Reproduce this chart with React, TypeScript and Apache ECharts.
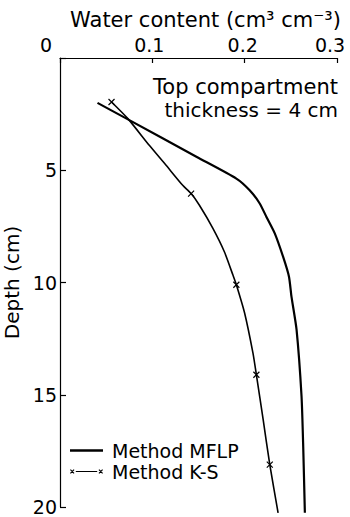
import React, { useEffect, useRef } from "react";
import * as echarts from "echarts";

const FONT = "DejaVu Sans";

// Water content axis ticks (top axis) and depth ticks (left axis)
const waterTicks = [0, 0.1, 0.2, 0.3];
const depthTicks = [0, 5, 10, 15, 20];

// Method MFLP curve (depth in cm, water content in cm3/cm3)
const mflpDepth = [2.0, 2.7, 4.41, 5.37, 5.89, 6.48, 7.08, 7.81, 8.85, 9.74, 10.63, 12.1, 15.08, 17.3, 20.26];
const mflpWater = [0.0406, 0.0721, 0.1482, 0.191, 0.2054, 0.2163, 0.2236, 0.2326, 0.2416, 0.248, 0.2507, 0.2562, 0.2616, 0.2634, 0.2652];

// Method K-S curve (markers at compartment centres; unmarked points trace the line)
const ksDepth = [1.96, 2.7, 3.89, 4.78, 5.67, 6.04, 6.56, 7.59, 8.63, 9.67, 10.1, 11.37, 13.15, 14.11, 16.1, 18.11, 20.26];
const ksWater = [0.0558, 0.0735, 0.0967, 0.1149, 0.1329, 0.142, 0.151, 0.1656, 0.178, 0.1873, 0.191, 0.2, 0.209, 0.2127, 0.22, 0.2272, 0.2362];
const ksMarked = [true, false, false, false, false, true, false, false, false, false, true, false, false, true, false, true, false];

const seriesNames = ["Method MFLP", "Method K-S"];
const annotationLines = ["Top compartment", "thickness = 4 cm"];

const crossSymbol = "path://M0 0L10 10M10 0L0 10";
const mflpLegendIcon = "path://M0 0H33V2.4H0Z";
const ksLegendIcon =
  "path://M0.3 2.7L1.1 1.9L4.7 5.5L3.9 6.3Z M0.3 5.5L3.9 1.9L4.7 2.7L1.1 6.3Z M6 3.6H27V4.6H6Z M28.3 2.7L29.1 1.9L32.7 5.5L31.9 6.3Z M28.3 5.5L31.9 1.9L32.7 2.7L29.1 6.3Z";

const labelBase = { fontSize: 19, fontFamily: FONT, color: "#000" };

export default function App() {
  const ref = useRef<HTMLDivElement>(null);

  useEffect(() => {
    if (!ref.current) return;
    const chart = echarts.init(ref.current, null, { renderer: "svg" });

    const mflpData = mflpDepth.map((d, i) => [mflpWater[i], d]);
    const ksData = ksDepth.map((d, i) => ({
      value: [ksWater[i], d],
      symbol: ksMarked[i] ? crossSymbol : "none",
    }));

    const richKeys = ["a", "b", "c", "d"];

    chart.setOption({
      animation: false,
      backgroundColor: "#fff",
      grid: { left: 60, right: 13, top: 58, bottom: 10, containLabel: false, outerBoundsMode: "none" },
      xAxis: {
        type: "value",
        position: "top",
        min: waterTicks[0],
        max: waterTicks[waterTicks.length - 1],
        interval: 0.1,
        name: "Water content (cm³ cm⁻³)",
        nameLocation: "middle",
        nameGap: 24,
        nameTextStyle: { fontSize: 21, fontFamily: FONT, color: "#000", padding: [0, 0, 0, 14] },
        axisLine: { show: true, lineStyle: { color: "#000", width: 1.2 } },
        axisTick: { show: true, inside: true, length: 5, lineStyle: { color: "#000", width: 1.2 } },
        axisLabel: {
          ...labelBase,
          margin: 4,
          formatter: (v: number) => {
            const i = Math.round(v * 10);
            const txt = i === 0 ? "0" : String(i / 10);
            return "{" + richKeys[i] + "|" + txt + "}";
          },
          rich: {
            a: { ...labelBase, padding: [0, 28, 0, 0] },
            b: { ...labelBase, padding: [0, 6, 0, 0] },
            c: { ...labelBase, padding: [0, 4, 0, 0] },
            d: { ...labelBase, padding: [0, 14, 0, 0] },
          },
        },
        splitLine: { show: false },
      },
      yAxis: {
        type: "value",
        inverse: true,
        min: depthTicks[0],
        max: depthTicks[depthTicks.length - 1],
        interval: 5,
        name: "Depth (cm)",
        nameLocation: "middle",
        nameGap: 34,
        nameRotate: 90,
        nameTextStyle: { fontSize: 20, fontFamily: FONT, color: "#000" },
        axisLine: { show: true, lineStyle: { color: "#000", width: 1.2 } },
        axisTick: { show: true, inside: true, length: 6, lineStyle: { color: "#000", width: 1.2 } },
        axisLabel: {
          ...labelBase,
          margin: 3,
          formatter: (v: number) => (v === 0 ? "" : String(v)),
        },
        splitLine: { show: false },
      },
      legend: {
        orient: "vertical",
        left: 70,
        top: 441,
        padding: 0,
        itemWidth: 33,
        itemHeight: 10,
        itemGap: 2,
        textStyle: { fontSize: 19, fontFamily: FONT, color: "#000", lineHeight: 19, padding: [0, 0, 0, 4] },
        data: [
          { name: seriesNames[0], icon: mflpLegendIcon, itemStyle: { color: "#000", borderWidth: 0 } },
          { name: seriesNames[1], icon: ksLegendIcon, itemStyle: { color: "#000", borderWidth: 0 } },
        ],
      },
      graphic: [
        {
          type: "text",
          right: 12,
          top: 76,
          style: { text: annotationLines[0], fontSize: 21, fontFamily: FONT, fill: "#000" },
        },
        {
          type: "text",
          right: 12,
          top: 100,
          style: { text: annotationLines[1], fontSize: 20, fontFamily: FONT, fill: "#000" },
        },
      ],
      series: [
        {
          name: seriesNames[0],
          type: "line",
          data: mflpData,
          symbol: "none",
          smooth: 0.2,
          clip: false,
          lineStyle: { color: "#000", width: 2.2 },
          itemStyle: { color: "#000" },
        },
        {
          name: seriesNames[1],
          type: "line",
          data: ksData,
          symbolSize: 6,
          showSymbol: true,
          smooth: 0.2,
          clip: false,
          lineStyle: { color: "#000", width: 1.6 },
          itemStyle: { color: "#000", borderColor: "#000", borderWidth: 1.2 },
        },
      ],
    });

    return () => chart.dispose();
  }, []);

  return (
    <div
      ref={ref}
      style={{ position: "fixed", left: 0, top: 0, width: 350, height: 517, background: "#fff" }}
    />
  );
}
